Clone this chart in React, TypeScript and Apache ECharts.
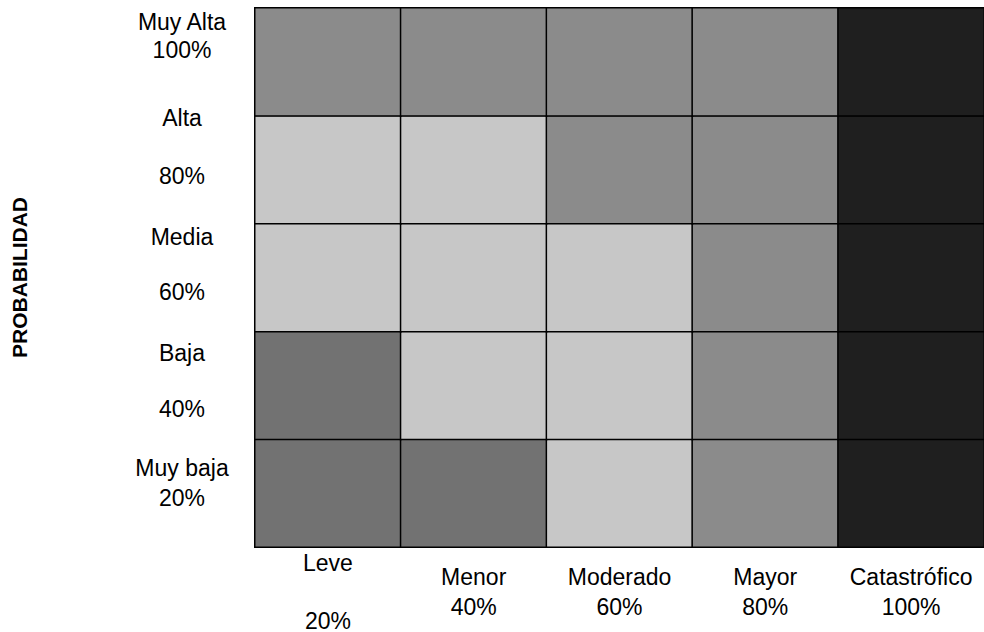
import React, { useEffect, useRef } from "react";
import * as echarts from "echarts";

// Impact (columns, left to right)
const impactNames = ["Leve", "Menor", "Moderado", "Mayor", "Catastrófico"];
const impactPct = ["20%", "40%", "60%", "80%", "100%"];

// Probability (rows, bottom to top)
const probNames = ["Muy baja", "Baja", "Media", "Alta", "Muy Alta"];
const probPct = ["20%", "40%", "60%", "80%", "100%"];

// Risk level per cell (1 light … 4 darkest), rows bottom to top, columns left to right
const levelMuyBaja = [3, 3, 1, 2, 4];
const levelBaja = [3, 1, 1, 2, 4];
const levelMedia = [1, 1, 1, 2, 4];
const levelAlta = [1, 1, 2, 2, 4];
const levelMuyAlta = [2, 2, 2, 2, 4];

const levelRows = [levelMuyBaja, levelBaja, levelMedia, levelAlta, levelMuyAlta];

export default function App() {
  const ref = useRef<HTMLDivElement>(null);

  useEffect(() => {
    if (!ref.current) return;
    const chart = echarts.init(ref.current, undefined, { renderer: "svg" });

    const data: number[][] = [];
    levelRows.forEach((row, y) => row.forEach((v, x) => data.push([x, y, v])));

    const font = "'Liberation Sans', Arial, sans-serif";
    const fs = 23;

    // label line layout (style only)
    const yLine = [30, 56, 55, 58, 28];
    const yGap = [20, 8, 27, 46, 52];
    const yRich: Record<string, any> = {};
    yLine.forEach((lh, i) => {
      yRich["n" + i] = { fontSize: fs, fontFamily: font, color: "#000", lineHeight: lh };
      yRich["g" + i] = { fontSize: fs, fontFamily: font, color: "#000", lineHeight: yGap[i] };
    });

    const option: any = {
      animation: false,
      backgroundColor: "#ffffff",
      grid: {
        left: 255,
        right: 0,
        top: 8,
        bottom: 85,
        outerBoundsMode: "none",
        containLabel: false,
        show: true,
        borderColor: "#000",
        borderWidth: 2,
        backgroundColor: "transparent",
      },
      xAxis: {
        type: "category",
        data: impactNames,
        axisLine: { show: false },
        axisTick: { show: false },
        splitLine: { show: false },
        axisLabel: {
          interval: 0,
          margin: 1,
          fontSize: fs,
          fontFamily: font,
          color: "#000",
          formatter: (v: string, i: number) =>
            i === 0
              ? `{l|${v}}\n{l| }\n{l|${impactPct[i]}}`
              : `{g| }\n{t|${v}}\n{t|${impactPct[i]}}`,
          rich: {
            l: { fontSize: fs, fontFamily: font, color: "#000", lineHeight: 29 },
            t: { fontSize: fs, fontFamily: font, color: "#000", lineHeight: 30 },
            g: { fontSize: fs, fontFamily: font, color: "#000", lineHeight: 14 },
          },
        },
      },
      yAxis: {
        type: "category",
        data: probNames,
        name: "PROBABILIDAD",
        nameLocation: "middle",
        nameRotate: 90,
        nameGap: 225,
        nameTextStyle: {
          fontSize: 21,
          fontWeight: "bold",
          fontFamily: font,
          color: "#000",
        },
        axisLine: { show: false },
        axisTick: { show: false },
        splitLine: { show: false },
        axisLabel: {
          interval: 0,
          margin: 73,
          align: "center",
          verticalAlign: "middle",
          fontSize: fs,
          fontFamily: font,
          color: "#000",
          formatter: (v: string, i: number) =>
            `{n${i}|${v}}\n{n${i}|${probPct[i]}}\n{g${i}| }`,
          rich: yRich,
        },
      },
      visualMap: {
        show: false,
        type: "piecewise",
        dimension: 2,
        pieces: [
          { value: 1, color: "#c7c7c7" },
          { value: 2, color: "#8b8b8b" },
          { value: 3, color: "#727272" },
          { value: 4, color: "#1f1f1f" },
        ],
      },
      series: [
        {
          type: "heatmap",
          data,
          itemStyle: { borderColor: "#000", borderWidth: 1.5 },
          emphasis: { disabled: true },
        },
      ],
    };

    chart.setOption(option);
    return () => chart.dispose();
  }, []);

  return (
    <div
      ref={ref}
      style={{ position: "fixed", left: 0, top: 0, width: 984, height: 632 }}
    />
  );
}
